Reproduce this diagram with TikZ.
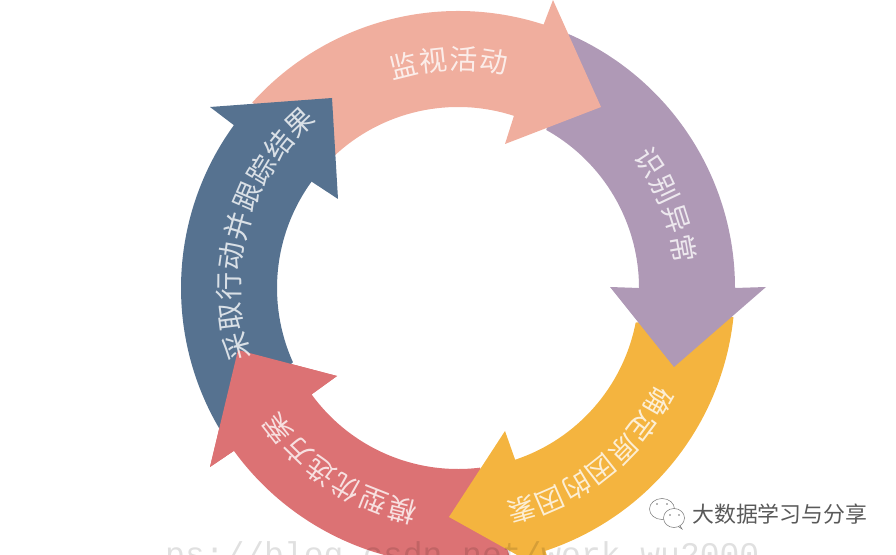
\documentclass[tikz,border=0pt]{standalone}
\usepackage{fontspec}
\newfontfamily\cjkfont{Noto Sans CJK SC}
\newfontfamily\markfont{Liberation Mono}
\definecolor{armpink}{HTML}{F0AE9E}
\definecolor{armpurple}{HTML}{AF99B6}
\definecolor{armyellow}{HTML}{F4B43F}
\definecolor{armred}{HTML}{DC7274}
\definecolor{armblue}{HTML}{567290}
\tikzset{
  ringtext/.style={text=white,text opacity=0.78,font=\cjkfont\fontsize{28}{28}\selectfont,inner sep=0pt},
  bubble/.style={draw=black!55,line width=0.5pt,fill=white},
  bubbledot/.style={fill=black!55,circle,inner sep=0pt,minimum size=1.6pt},
}
\begin{document}
\begin{tikzpicture}[x=1pt,y=1pt]
\useasboundingbox (0,0) rectangle (896,554);
\clip (0,0) rectangle (896,554);
\begin{scope}[shift={(458,266)}]
% red, under the yellow head
\fill[armred] (281:277) arc[start angle=281,end angle=216,radius=277]
  -- (-248,-179) -- (-220,-62) -- (-121,-88) -- (216:181)
  arc[start angle=216,end angle=277,radius=181] -- cycle;
% yellow, under the purple head
\fill[armyellow] (-6:277) arc[start angle=-6,end angle=-71.6,radius=277]
  -- (95,-287) -- (-9,-229) -- (47,-143) -- (-71.6:181)
  arc[start angle=-71.6,end angle=-11,radius=181] -- cycle;
% purple, under the pink head
\fill[armpurple] (66.5:277) arc[start angle=66.5,end angle=0,radius=277]
  -- (308,1) -- (216,-79) -- (152,1) -- (0:181)
  arc[start angle=0,end angle=60.8,radius=181] -- cycle;
% pink, under the blue head
\fill[armpink] (138:277) arc[start angle=138,end angle=72,radius=277]
  -- (95,288) -- (143,181) -- (47,144) -- (72:181)
  arc[start angle=72,end angle=133,radius=181] -- cycle;
% blue, under the red head
\fill[armblue] (210.8:277) arc[start angle=210.8,end angle=144,radius=277]
  -- (-248,181) -- (-126,190) -- (-120,89) -- (144:181)
  arc[start angle=144,end angle=204.2,radius=181] -- cycle;
% red head again, over the blue tail
\fill[armred] (216:277) -- (-248,-179) -- (-220,-62) -- (-121,-88) -- (216:181) -- cycle;
% labels
\foreach \c/\a [count=\i] in {监/103.7,视/96.1,活/88.5,动/80.9}
  \node[ringtext,rotate=\a-90] (pink\i) at (\a:229) {\c};
\foreach \c/\a [count=\i] in {识/33.3,别/25.3,异/17.6,常/10}
  \node[ringtext,rotate=\a-90] (purple\i) at (\a:229) {\c};
\foreach \c/\a [count=\i] in {确/-29.5,定/-36.9,原/-44.3,因/-51.7,的/-59.1,因/-66.5,素/-73.9}
  \node[ringtext,rotate=\a-90] (yellow\i) at (\a:231) {\c};
\foreach \c/\a [count=\i] in {模/256,型/248.4,优/240.8,选/233.2,方/225.6,案/218}
  \node[ringtext,rotate=\a-90] (red\i) at (\a:229) {\c};
\foreach \c/\a [count=\i] in {采/194.8,取/187.2,行/179.5,动/171.9,并/164.2,跟/156.6,踪/149,结/141.3,果/133.7}
  \node[ringtext,rotate=\a-90] (blue\i) at (\a:229) {\c};
\end{scope}
% watermark, cut by the lower edge
\node[anchor=base west,inner sep=0pt,text=black,text opacity=0.12,font=\markfont\fontsize{33}{33}\selectfont] (mark) at (165,-11) {ps://blog.csdn.net/work\_wu2000};
% chat logo
\draw[bubble] (652,47) -- (655,38) -- (660,44);
\draw[bubble] (662,45) ellipse[x radius=12.5,y radius=10.5];
\draw[bubble] (679,30) -- (682,25) -- (676,29);
\draw[bubble] (674,36) ellipse[x radius=10.5,y radius=9.5];
\node[bubbledot] (dot1) at (657,50) {};
\node[bubbledot] (dot2) at (667,50) {};
\node[bubbledot] (dot3) at (670,39) {};
\node[bubbledot] (dot4) at (679,39) {};
\node[anchor=west,inner sep=0pt,text=black!65,font=\cjkfont\fontsize{21.9}{22}\selectfont] (brand) at (692,40) {大数据学习与分享};
\end{tikzpicture}
\end{document}
